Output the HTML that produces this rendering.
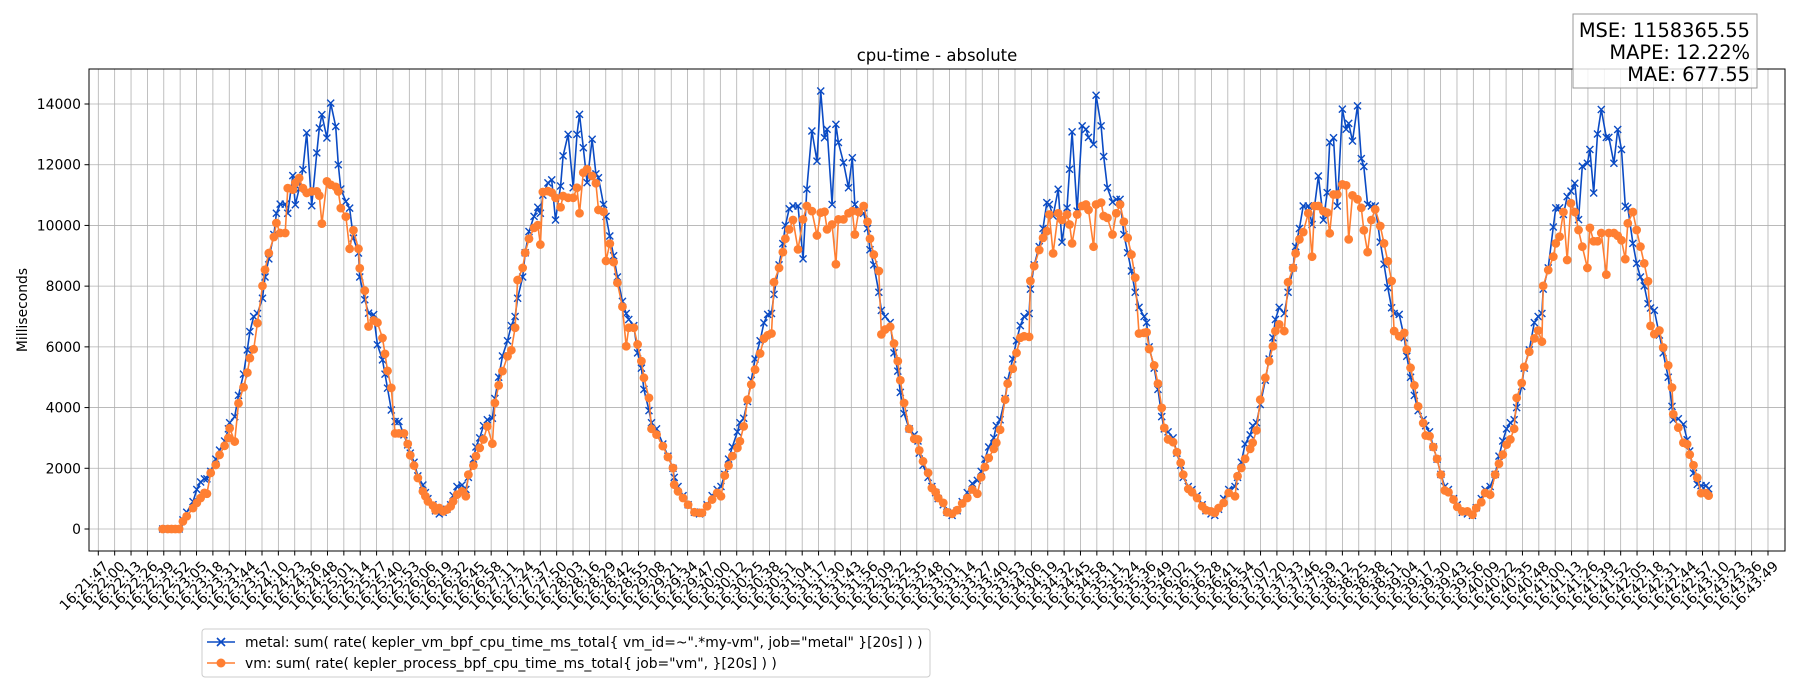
<!DOCTYPE html>
<html><head><meta charset="utf-8"><style>
html,body{margin:0;padding:0;background:#fff;}
svg{display:block;font-family:"DejaVu Sans","Liberation Sans",sans-serif;}
</style></head><body>
<svg id="chart" width="1800" height="700" viewBox="0 0 1800 700" xmlns="http://www.w3.org/2000/svg">
<rect x="0" y="0" width="1800" height="700" fill="#fff"/>
<g id="grid"></g>
<g id="series"></g>
<rect x="89" y="69" width="1696" height="482" fill="none" stroke="#000" stroke-width="1"/>
<g id="yticks"></g>
<g id="xticks"></g>
<text x="937" y="61" text-anchor="middle" font-size="16.5">cpu-time - absolute</text>
<text transform="translate(27,310) rotate(-90)" text-anchor="middle" font-size="13.9">Milliseconds</text>
<g>
<rect x="1573" y="14" width="184" height="74" fill="#fff" fill-opacity="0.8" stroke="#999" stroke-width="1"/>
<text x="1750" y="37" text-anchor="end" font-size="19.4">MSE: 1158365.55</text>
<text x="1750" y="59" text-anchor="end" font-size="19.4">MAPE: 12.22%</text>
<text x="1750" y="81" text-anchor="end" font-size="19.4">MAE: 677.55</text>
</g>
<g>
<rect x="202" y="629" width="728" height="48" rx="3" fill="#fff" stroke="#ccc" stroke-width="1"/>
<g>
<line x1="207" y1="642" x2="235" y2="642" stroke="#0b4bc4" stroke-width="1.6"/>
<path d="M217,638 L225,646 M217,646 L225,638" stroke="#0b4bc4" stroke-width="1.6"/>
<text x="245" y="647" font-size="13.9">metal: sum( rate( kepler_vm_bpf_cpu_time_ms_total{ vm_id=~".*my-vm", job="metal" }[20s] ) )</text>
</g>
<g>
<line x1="207" y1="663" x2="235" y2="663" stroke="#ff7f32" stroke-width="1.6"/>
<circle cx="221" cy="663" r="4.5" fill="#ff7f32"/>
<text x="245" y="668" font-size="13.9">vm: sum( rate( kepler_process_bpf_cpu_time_ms_total{ job="vm", }[20s] ) )</text>
</g>
</g>
</svg>
<script>
// seconds since 16:21:47 (shared sample times)
const times = [51,55,58,61,64,67,70,75,78,81,84,86,89,93,96,100,103,104,108,111,115,118,120,123,126,130,132,135,139,141,144,148,150,154,156,159,162,165,169,173,175,177,181,184,188,190,192,196,199,202,206,207,211,214,218,221,225,227,229,232,235,238,242,245,247,250,253,257,259,261,265,267,270,273,276,279,281,284,288,291,293,297,299,302,305,308,312,314,317,320,324,327,330,332,336,338,341,345,348,350,352,356,359,362,366,368,372,376,379,381,384,387,391,394,396,400,402,405,408,411,415,418,420,424,427,430,432,436,438,442,447,451,455,456,459,463,467,472,476,478,482,486,490,493,496,499,502,506,508,511,514,517,520,524,527,530,533,535,539,542,544,547,550,554,558,561,565,569,572,575,577,581,584,586,590,594,597,599,602,606,609,611,614,618,620,623,627,630,633,635,638,642,646,649,650,653,657,660,663,665,669,672,676,680,684,688,692,696,699,702,705,709,711,714,718,720,724,727,730,733,737,738,741,745,748,751,753,756,760,763,767,769,771,775,779,782,784,788,790,794,796,799,803,806,809,812,815,818,821,824,828,830,832,836,839,842,844,847,851,854,857,859,863,866,870,874,877,881,884,887,891,895,900,902,905,908,912,914,917,920,924,927,930,932,935,939,942,946,948,951,954,958,961,963,966,970,973,975,978,981,985,988,990,993,997,1000,1002,1005,1008,1011,1015,1018,1021,1024,1026,1030,1034,1036,1039,1042,1045,1049,1051,1054,1057,1060,1063,1066,1069,1073,1076,1080,1084,1088,1091,1095,1098,1102,1106,1109,1112,1115,1118,1121,1123,1127,1129,1133,1137,1140,1143,1144,1148,1152,1154,1157,1160,1163,1166,1169,1172,1175,1179,1181,1184,1187,1190,1194,1196,1200,1203,1206,1209,1211,1215,1218,1221,1224,1227,1229,1232,1236,1239,1243,1246,1247,1251,1255,1258,1260,1263,1266,1269,1273,1275];
const vmValues = [0,0,0,0,0,250,420,690,860,1020,1190,1160,1850,2110,2440,2740,3000,3320,2880,4140,4670,5150,5630,5920,6780,8010,8540,9090,9620,10080,9750,9750,11230,11180,11400,11560,11230,11070,11120,11120,10980,10060,11450,11340,11270,11120,10570,10290,9230,9840,9230,8590,7850,6670,6870,6800,6290,5770,5210,4650,3150,3150,3150,2800,2430,2090,1680,1240,1080,910,770,615,690,580,640,750,910,1130,1240,1080,1790,2090,2400,2670,2950,3380,2810,4150,4730,5200,5690,5890,6630,8200,8600,9100,9560,9920,10010,9370,11100,11130,11080,10910,10600,10970,10910,10910,11240,10400,11740,11850,11630,11390,10510,10450,8830,9400,8790,8110,7320,6020,6630,6630,6080,5530,4980,4320,3300,3110,2730,2370,2010,1460,1240,1020,800,550,530,530,750,970,1190,1080,1760,2090,2400,2670,2890,3380,4260,4760,5250,5780,6270,6380,6440,8130,8600,9120,9560,9870,10180,9210,10200,10640,10470,9670,10420,10450,9870,10030,8720,10200,10200,10400,10470,9700,10440,10640,10120,9560,9040,8500,6410,6570,6660,6110,5530,4900,4150,3300,2970,2950,2590,2230,1850,1350,1210,1020,860,550,500,620,840,1020,1300,1160,1710,2040,2340,2640,2840,3270,4260,4790,5280,5800,6300,6350,6330,8170,8660,9190,9590,9810,10360,9080,10400,10180,10360,10030,9410,10360,10640,10690,10510,9300,10690,10750,10310,10250,9700,10400,10690,10120,9590,9040,8280,6440,6460,6480,5930,5390,4790,3990,3330,2950,2860,2530,2180,1790,1320,1210,1020,750,620,580,530,690,860,1190,1080,1740,2010,2310,2640,2840,3250,4260,4980,5530,6020,6520,6740,6520,8130,8600,9080,9540,9780,10400,8970,10640,10640,10470,10420,9740,11020,11020,11350,11320,9540,10990,10860,10580,9840,9120,10180,10530,9980,9410,8820,8170,6520,6350,6460,5910,5310,4730,4040,3490,3080,3060,2700,2310,1790,1270,1210,970,730,580,580,470,690,880,1190,1130,1790,2150,2450,2780,2950,3300,4320,4810,5340,5840,6280,6540,6170,8010,8530,8970,9410,9630,10440,8860,10730,10440,9850,9300,8600,9920,9480,9480,9750,8380,9750,9750,9660,9510,8890,10070,10440,9850,9300,8750,8160,6690,6420,6540,5980,5390,4660,3780,3340,2840,2790,2450,2100,1690,1180,1180,1100];
const metalValues = [0,0,0,0,0,300,550,900,1300,1550,1650,1650,1900,2300,2600,2900,3300,3500,3700,4400,5100,5900,6500,7000,7100,7600,8300,8900,9700,10400,10700,10700,10400,11640,10680,11200,11840,13050,10650,12390,13210,13650,12880,14030,13260,12000,11200,10790,10570,9580,9090,8300,7550,7110,7060,6070,5570,5100,4640,3920,3540,3540,3100,2770,2500,2200,1750,1450,1200,1000,800,600,500,550,650,800,1100,1400,1450,1300,1700,2300,2700,3000,3400,3600,3650,4300,5000,5700,6200,6700,7000,7600,8300,9100,9800,10300,10600,10400,11000,11400,11500,10180,11300,12290,13000,11240,13000,13660,12560,11410,12840,11700,11570,10690,10300,9650,9000,8300,7500,7100,6900,6700,5800,5300,4600,3900,3500,3300,2800,2400,2000,1700,1400,1100,800,550,500,550,800,1100,1300,1400,1800,2300,2700,3200,3500,3650,4200,4900,5600,6200,6790,7070,7100,7730,8700,9400,10000,10550,10640,10640,8900,11190,13110,12120,14430,12890,13170,10690,13330,12730,12070,11240,12230,10690,10500,10400,9900,9200,8700,7800,7200,7000,6800,5800,5200,4500,3800,3300,3100,2900,2500,2100,1700,1400,1200,1000,800,550,450,600,900,1200,1500,1600,1900,2300,2700,3000,3400,3600,4300,4900,5600,6200,6700,7000,7100,7900,8700,9300,9900,10750,10690,10310,11190,9450,10580,11850,13080,10470,13280,13170,12900,12670,14290,13280,12270,11240,10770,10860,10860,9700,9100,8500,7800,7300,7000,6800,6000,5300,4600,3700,3300,3200,3000,2500,2100,1700,1400,1300,1100,800,600,500,450,650,1000,1300,1400,1700,2200,2800,3100,3400,3500,4100,4900,5600,6300,6900,7300,7100,7800,8600,9300,9900,10640,10640,10030,10640,11630,10180,11080,12730,12890,10640,13830,13170,13360,12780,13940,12200,11940,10690,10640,10640,9450,8720,7950,7290,7100,7070,6300,5690,5000,4400,3900,3600,3400,3200,2700,2300,1800,1400,1300,1000,800,550,500,450,700,1000,1300,1400,1800,2400,2900,3300,3500,3600,4000,4700,5300,5900,6800,7000,7100,7900,8600,9950,10580,10580,10360,10950,11130,11390,10190,11950,12050,12500,11070,13010,13820,12900,12900,12050,13160,12500,10630,10580,9410,8750,8300,8010,7420,7280,7200,6390,5800,5000,4040,3600,3630,3450,2940,2570,1840,1470,1430,1430,1320];
const yTicks = [0,2000,4000,6000,8000,10000,12000,14000];
const xTickLabels = ["16:21:47","16:22:00","16:22:13","16:22:26","16:22:39","16:22:52","16:23:05","16:23:18","16:23:31","16:23:44","16:23:57","16:24:10","16:24:23","16:24:36","16:24:48","16:25:01","16:25:14","16:25:27","16:25:40","16:25:53","16:26:06","16:26:19","16:26:32","16:26:45","16:26:58","16:27:11","16:27:24","16:27:37","16:27:50","16:28:03","16:28:16","16:28:29","16:28:42","16:28:55","16:29:08","16:29:21","16:29:34","16:29:47","16:30:00","16:30:12","16:30:25","16:30:38","16:30:51","16:31:04","16:31:17","16:31:30","16:31:43","16:31:56","16:32:09","16:32:22","16:32:35","16:32:48","16:33:01","16:33:14","16:33:27","16:33:40","16:33:53","16:34:06","16:34:19","16:34:32","16:34:45","16:34:58","16:35:11","16:35:24","16:35:36","16:35:49","16:36:02","16:36:15","16:36:28","16:36:41","16:36:54","16:37:07","16:37:20","16:37:33","16:37:46","16:37:59","16:38:12","16:38:25","16:38:38","16:38:51","16:39:04","16:39:17","16:39:30","16:39:43","16:39:56","16:40:09","16:40:22","16:40:35","16:40:48","16:41:00","16:41:13","16:41:26","16:41:39","16:41:52","16:42:05","16:42:18","16:42:31","16:42:44","16:42:57","16:43:10","16:43:23","16:43:36","16:43:49"];

const NS = 'http://www.w3.org/2000/svg';
const AX = {left:89,right:1785,top:69,bottom:551};
const X0 = 98.3, X1 = 1768, SPAN_SEC = 1322;
function xScale(t){ return X0 + t*(X1-X0)/SPAN_SEC; }
function xTick(k){ return X0 + k*(X1-X0)/(xTickLabels.length-1); }
function yScale(v){ return 529 - v*(425/14000); }
function mk(tag, attrs, parent){ const e=document.createElementNS(NS,tag); for(const k in attrs) e.setAttribute(k,attrs[k]); parent.appendChild(e); return e; }

const grid=document.getElementById('grid'), yt=document.getElementById('yticks'), xt=document.getElementById('xticks'), ser=document.getElementById('series');

yTicks.forEach(v=>{
  const y=yScale(v);
  const gl=mk('line',{x1:AX.left,x2:AX.right,y1:y,y2:y,stroke:'#b0b0b0','stroke-width':0.8},grid);
  
  
  mk('line',{x1:AX.left-4.5,x2:AX.left,y1:y,y2:y,stroke:'#000','stroke-width':1},yt);
  const tx=mk('text',{x:AX.left-8,y:y+5,'text-anchor':'end','font-size':13.9},yt);
  tx.textContent=String(v);
  
  
});

xTickLabels.forEach((lab,k)=>{
  const x=xTick(k);
  const gl=mk('line',{x1:x,x2:x,y1:AX.top,y2:AX.bottom,stroke:'#b0b0b0','stroke-width':0.8},grid);
  
  
  mk('line',{x1:x,x2:x,y1:AX.bottom,y2:AX.bottom+4.5,stroke:'#000','stroke-width':1},xt);
  const tx=mk('text',{transform:'translate('+(x+4)+','+(AX.bottom+9)+') rotate(-45)','text-anchor':'end','font-size':13.9,dy:'0.72em'},xt);
  tx.textContent=lab;
  
  
});

function drawSeries(vals,color,name,marker){
  const g=mk('g',{},ser);
  
  
  const pts=vals.map((v,i)=>xScale(times[i]).toFixed(1)+','+yScale(v).toFixed(1)).join(' ');
  const pl=mk('polyline',{points:pts,fill:'none',stroke:color,'stroke-width':1.6,'stroke-linejoin':'round'},g);
  
  
  vals.forEach((v,i)=>{
    const x=xScale(times[i]), y=yScale(v);
    let m;
    if(marker==='x'){
      m=mk('path',{d:'M'+(x-3.5)+','+(y-3.5)+'L'+(x+3.5)+','+(y+3.5)+'M'+(x-3.5)+','+(y+3.5)+'L'+(x+3.5)+','+(y-3.5),stroke:color,'stroke-width':1.4},g);
    } else {
      m=mk('circle',{cx:x,cy:y,r:4.4,fill:color},g);
    }
    
    
  });
}
drawSeries(metalValues,'#0b4bc4','metal-series','x');
drawSeries(vmValues,'#ff7f32','vm-series','o');
</script>
</body></html>
